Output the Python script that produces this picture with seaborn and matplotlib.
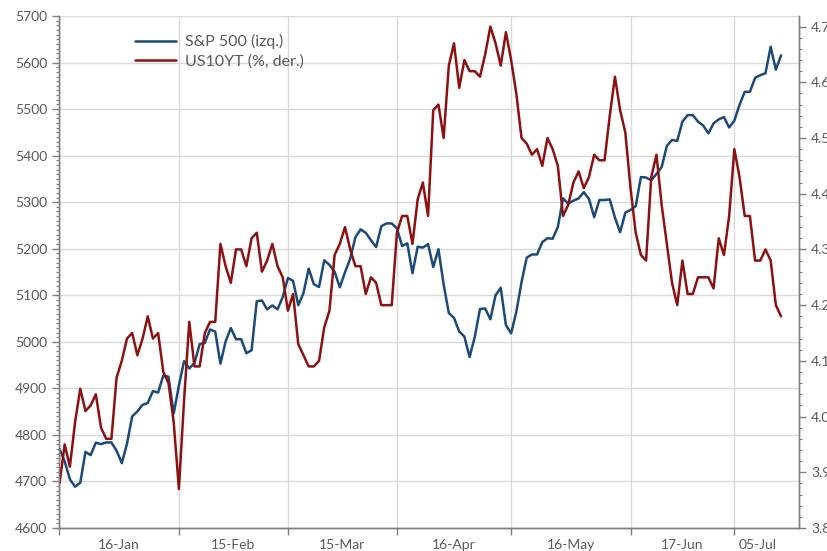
import numpy as np
import pandas as pd
import matplotlib
matplotlib.use("Agg")
import matplotlib.pyplot as plt
from matplotlib.ticker import MultipleLocator, FixedLocator, NullFormatter, FixedFormatter, FormatStrFormatter
import seaborn as sns

# ---------------- data ----------------
dates = pd.bdate_range("2023-12-29", "2024-07-12")
dates = dates[dates != pd.Timestamp("2024-01-01")]

spx = [4769.83, 4742.83, 4704.81, 4688.68, 4697.24, 4763.54, 4756.50, 4783.45, 4780.24, 4783.83,
       4783.83, 4765.98, 4739.21, 4780.94, 4839.81, 4850.43, 4864.60, 4868.55, 4894.16, 4890.97,
       4927.93, 4924.97, 4845.65, 4906.19, 4958.61, 4942.81, 4954.23, 4995.06, 4997.91, 5026.61,
       5021.84, 4953.17, 5000.62, 5029.73, 5005.57, 5005.57, 4975.51, 4981.80, 5087.03, 5088.80,
       5069.53, 5078.18, 5069.76, 5096.27, 5137.08, 5130.95, 5078.65, 5104.76, 5157.36, 5123.69,
       5117.94, 5175.27, 5165.31, 5150.48, 5117.09, 5149.42, 5178.51, 5224.62, 5241.53, 5234.18,
       5218.19, 5203.58, 5248.49, 5254.35, 5254.35, 5243.77, 5205.81, 5211.49, 5147.21, 5204.34,
       5202.39, 5209.91, 5160.64, 5199.06, 5123.41, 5061.82, 5051.41, 5022.21, 5011.12, 4967.23,
       5010.60, 5070.55, 5071.63, 5048.42, 5099.96, 5116.17, 5035.69, 5018.39, 5064.20, 5127.79,
       5180.74, 5187.70, 5187.67, 5214.08, 5222.68, 5221.42, 5246.68, 5308.15, 5297.10, 5303.27,
       5308.13, 5321.41, 5307.01, 5267.84, 5304.72, 5304.72, 5306.04, 5266.95, 5235.48, 5277.51,
       5283.40, 5291.34, 5354.03, 5352.96, 5346.99, 5360.79, 5375.32, 5421.03, 5433.74, 5431.60,
       5473.23, 5487.03, 5487.03, 5473.17, 5464.62, 5447.87, 5469.30, 5477.90, 5482.87, 5460.48,
       5475.09, 5509.01, 5537.02, 5537.02, 5567.19, 5572.85, 5576.98, 5633.91, 5584.54, 5615.35]

us10y = [3.88, 3.95, 3.91, 3.99, 4.05, 4.01, 4.02, 4.04, 3.98, 3.96,
         3.96, 4.07, 4.10, 4.14, 4.15, 4.11, 4.14, 4.18, 4.14, 4.15,
         4.08, 4.06, 3.99, 3.87, 4.03, 4.17, 4.09, 4.09, 4.15, 4.17,
         4.17, 4.31, 4.27, 4.24, 4.30, 4.30, 4.27, 4.32, 4.33, 4.26,
         4.28, 4.31, 4.27, 4.25, 4.19, 4.22, 4.13, 4.11, 4.09, 4.09,
         4.10, 4.16, 4.19, 4.29, 4.31, 4.34, 4.30, 4.27, 4.27, 4.22,
         4.25, 4.24, 4.20, 4.20, 4.20, 4.33, 4.36, 4.36, 4.31, 4.39,
         4.42, 4.36, 4.55, 4.56, 4.50, 4.63, 4.67, 4.59, 4.64, 4.62,
         4.62, 4.61, 4.65, 4.70, 4.67, 4.63, 4.69, 4.64, 4.58, 4.50,
         4.49, 4.47, 4.48, 4.45, 4.50, 4.48, 4.45, 4.36, 4.38, 4.42,
         4.44, 4.41, 4.43, 4.47, 4.46, 4.46, 4.54, 4.61, 4.55, 4.51,
         4.41, 4.33, 4.29, 4.28, 4.43, 4.47, 4.38, 4.31, 4.24, 4.20,
         4.28, 4.22, 4.22, 4.25, 4.25, 4.25, 4.23, 4.32, 4.29, 4.36,
         4.48, 4.43, 4.36, 4.36, 4.28, 4.28, 4.30, 4.28, 4.20, 4.18]

tick_labels = ["16-Jan", "15-Feb", "15-Mar", "16-Apr", "16-May", "17-Jun", "05-Jul"]
series_names = ["S&P 500 (izq.)", "US10YT (%, der.)"]

df = pd.DataFrame({"pos": np.arange(len(dates)), "date": dates, "spx": spx, "us10y": us10y})

# ---------------- style ----------------
sns.set_theme(style="white")
plt.rcParams["font.family"] = ["Lato", "DejaVu Sans"]
txt = "#595959"
axcol = "#7f7f7f"
grid = "#d9d9d9"
blue = "#1b4a7a"
red = "#8c1111"

fig = plt.figure(figsize=(8.28, 5.51), dpi=100)
ax = fig.add_axes([59.5 / 828, 1 - 528 / 551, (798.7 - 59.5) / 828, 512 / 551])
ax2 = ax.twinx()

sns.lineplot(data=df, x="pos", y="spx", ax=ax, color=blue, lw=1.8, label=series_names[0], legend=False)
sns.lineplot(data=df, x="pos", y="us10y", ax=ax2, color=red, lw=1.8, label=series_names[1], legend=False)

n = len(df)
ax.set_xlim(0, 142.4)
ax.set_ylim(4600, 5700)
ax2.set_ylim(3.8, 4.719)

# month boundaries (first point of each month, first group starts at the first point)
months = df["date"].dt.to_period("M")
changes = [i for i in range(1, n) if months.iloc[i] != months.iloc[i - 1]][1:]
bounds = [0] + changes
ends = changes + [n - 1]
mids = [(a + b) / 2 for a, b in zip(bounds, ends)]

ax.xaxis.set_major_locator(FixedLocator(bounds))
ax.xaxis.set_major_formatter(NullFormatter())
ax.xaxis.set_minor_locator(FixedLocator(mids))
ax.xaxis.set_minor_formatter(FixedFormatter(tick_labels))
ax.tick_params(axis="x", which="major", direction="out", length=5, width=1, color=axcol, bottom=True)
ax.tick_params(axis="x", which="minor", length=0, pad=8, labelsize=10, labelcolor=txt, bottom=True)

ax.yaxis.set_major_locator(MultipleLocator(100))
ax.yaxis.set_minor_locator(MultipleLocator(10))
ax.tick_params(axis="y", which="major", direction="out", length=5, width=1, color=axcol,
               labelsize=10, labelcolor=txt, pad=4, left=True)
ax.tick_params(axis="y", which="minor", direction="out", length=2.5, width=0.8, color=axcol, left=True)

ax2.yaxis.set_major_locator(MultipleLocator(0.1))
ax2.yaxis.set_minor_locator(MultipleLocator(0.02))
ax2.yaxis.set_major_formatter(FormatStrFormatter("%.1f"))
ax2.tick_params(axis="y", which="major", direction="out", length=5, width=1, color=axcol,
                labelsize=10, labelcolor=txt, pad=4, right=True)
ax2.tick_params(axis="y", which="minor", direction="out", length=2.5, width=0.8, color=axcol, right=True)

ax.grid(True, which="major", axis="both", color=grid, lw=1)
ax2.grid(False)
ax.set_axisbelow(True)

for a in (ax, ax2):
    a.set_xlabel("")
    a.set_ylabel("")
    a.spines["top"].set_visible(False)
    for s in ("left", "right", "bottom"):
        a.spines[s].set_color(axcol)
        a.spines[s].set_linewidth(1)

h1, l1 = ax.get_legend_handles_labels()
h2, l2 = ax2.get_legend_handles_labels()
leg = ax2.legend(h1 + h2, l1 + l2, loc="upper left", bbox_to_anchor=(0.102, 0.964),
                 frameon=False, fontsize=11.5, handlelength=2.6, handletextpad=0.55,
                 labelspacing=0.3, borderpad=0, borderaxespad=0)
for t in leg.get_texts():
    t.set_color(txt)

fig.savefig("out.png", dpi=100)
